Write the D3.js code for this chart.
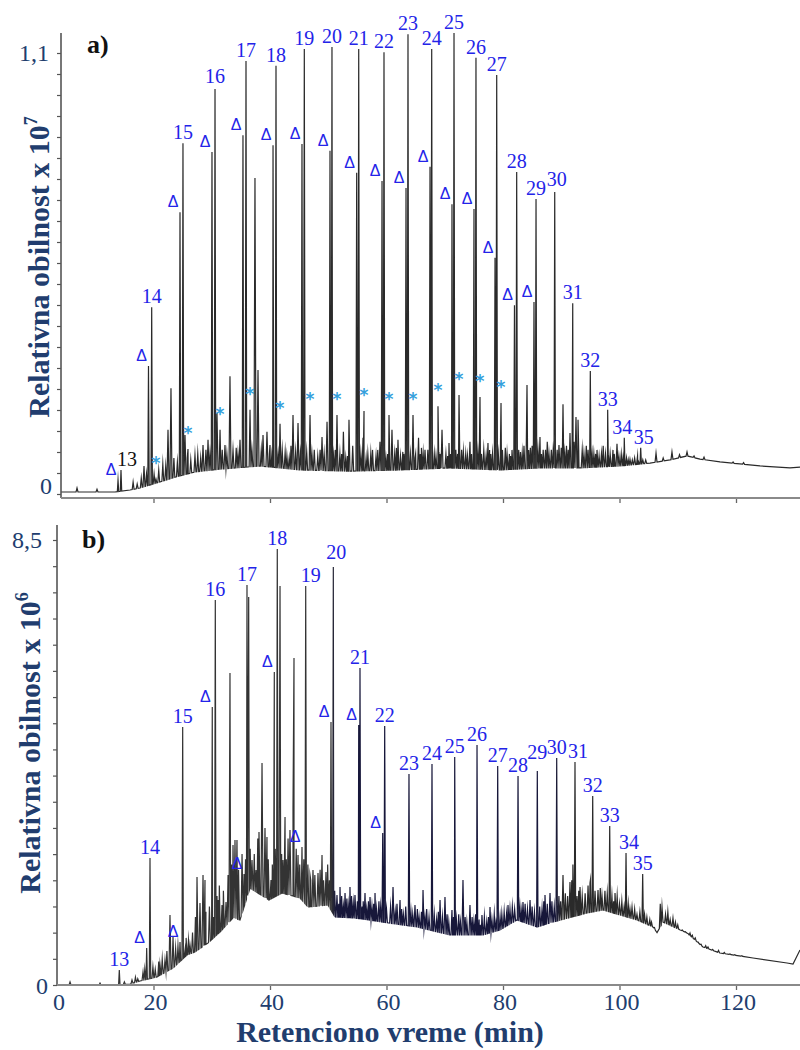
<!DOCTYPE html>
<html><head><meta charset="utf-8">
<script src="https://cdn.jsdelivr.net/npm/d3@7"></script>
<style>body{margin:0;background:#fff}svg{display:block}</style>
</head><body>
<svg id="c" width="800" height="1050"></svg>
<script>
// ================= DATA =================
// x axis (retention time, min)
const xTicks = [0, 20, 40, 60, 80, 100, 120];
// y axis ranges (panel a: x 10^7, panel b: x 10^6)
const yRangeA = [0, 1.1];
const yRangeB = [0, 8.5];
const yTickCountA = 21;   // minor tick intervals on panel a
const yTickStepB = 0.5;

// ---- panel a ----
const baseA = [[4.12,0.005],[13.39,0.005],[15.97,0.010],[17.68,0.015],[21.12,0.030],[23.69,0.042],[27.12,0.055],[31.42,0.062],[38.28,0.070],[45.15,0.060],[53.73,0.057],[62.32,0.060],[70.90,0.065],[79.48,0.060],[86.35,0.065],[93.22,0.065],[100.09,0.070],[105.24,0.077],[108.67,0.085],[111.59,0.095],[113.82,0.087],[117.25,0.080],[124.12,0.070],[129.27,0.065],[130.99,0.067]];
const alkanesA = [["13",14.42,0.060],["14",19.69,0.466],["15",25.06,0.875],["16",30.56,1.010],["17",35.88,1.080],["18",41.03,1.068],["19",45.89,1.110],["20",50.64,1.115],["21",55.23,1.110],["22",59.57,1.102],["23",63.69,1.147],["24",67.76,1.110],["25",71.59,1.150],["26",75.36,1.088],["27",78.92,1.045],["28",82.35,0.803],["29",85.67,0.736],["30",88.88,0.753],["31",91.97,0.476],["32",94.99,0.307],["33",97.97,0.210],["34",100.82,0.140],["35",103.64,0.115]];
const deltaA = [[13.91,0.035],[19.14,0.319],[24.55,0.703],[30.04,0.853],[35.36,0.895],[40.52,0.870],[45.49,0.873],[50.30,0.856],[54.88,0.801],[59.23,0.781],[63.35,0.763],[67.47,0.816],[71.24,0.723],[75.02,0.711],[78.63,0.589],[81.97,0.471],[85.32,0.479]];
const starA = [[20.43,0.037],[25.92,0.112],[31.42,0.160],[36.57,0.210],[41.72,0.175],[46.87,0.197],[51.50,0.197],[56.14,0.207],[60.43,0.197],[64.55,0.197],[68.84,0.219],[72.45,0.247],[76.05,0.242],[79.66,0.227]];
const grassA = [[6.87,0.015],[10.30,0.012],[18.37,0.070],[22.49,0.160],[23.00,0.264],[25.41,0.147],[27.12,0.097],[28.50,0.122],[29.36,0.135],[30.90,0.202],[32.27,0.122],[33.13,0.294],[33.65,0.110],[34.85,0.135],[37.42,0.788],[37.94,0.309],[38.80,0.147],[39.48,0.155],[40.00,0.122],[42.60,0.105],[43.30,0.090],[43.95,0.197],[44.81,0.177],[47.60,0.110],[48.20,0.095],[48.93,0.142],[49.79,0.180],[52.00,0.100],[52.60,0.155],[53.00,0.090],[53.56,0.185],[55.97,0.140],[56.80,0.100],[57.60,0.110],[58.20,0.095],[58.88,0.130],[60.94,0.160],[61.40,0.100],[61.97,0.135],[62.80,0.105],[65.00,0.100],[65.50,0.140],[66.00,0.115],[66.61,0.110],[69.00,0.105],[69.53,0.160],[70.20,0.100],[70.73,0.127],[72.90,0.110],[73.60,0.100],[74.33,0.130],[74.90,0.105],[76.70,0.110],[77.42,0.127],[77.90,0.100],[80.40,0.115],[81.10,0.100],[81.55,0.110],[83.00,0.105],[83.60,0.120],[84.12,0.272],[84.70,0.115],[86.35,0.142],[86.90,0.110],[87.60,0.130],[88.30,0.110],[89.61,0.122],[90.30,0.224],[90.90,0.120],[91.50,0.152],[92.53,0.192],[92.88,0.185],[93.60,0.110],[94.30,0.120],[95.60,0.100],[96.14,0.110],[97.20,0.120],[98.40,0.100],[98.88,0.110],[99.57,0.125],[100.30,0.100],[101.80,0.087],[102.60,0.090],[103.10,0.095],[104.50,0.085],[106.27,0.102],[107.50,0.090],[109.01,0.105],[110.30,0.098],[111.59,0.105],[112.80,0.095],[114.51,0.092],[119.50,0.080],[121.30,0.078]];
const noiseA = [[16.5,0.030],[17.2,0.025],[17.9,0.040],[18.8,0.050],[20.1,0.050],[20.9,0.060],[21.6,0.075],[22.1,0.070],[23.5,0.090],[24.1,0.080],[25.8,0.090],[26.4,0.085],[27.6,0.100],[28.1,0.090],[29.0,0.110],[29.7,0.100],[31.8,0.110],[32.6,0.100],[34.2,0.115],[34.5,0.100],[36.9,0.110],[38.5,0.110],[39.9,0.100],[40.3,0.095],[41.4,0.100],[42.1,0.110],[42.9,0.095],[43.6,0.120],[44.4,0.105],[45.2,0.100],[46.3,0.105],[47.2,0.100],[48.6,0.110],[49.3,0.100],[50.9,0.095],[51.2,0.110],[52.3,0.100],[53.3,0.095],[54.2,0.120],[55.6,0.100],[56.5,0.090],[57.3,0.100],[58.5,0.110],[59.9,0.090],[60.2,0.100],[61.7,0.115],[62.4,0.095],[63.0,0.100],[64.1,0.100],[64.9,0.090],[65.8,0.100],[66.3,0.100],[67.1,0.110],[68.2,0.100],[68.5,0.095],[69.2,0.100],[70.5,0.095],[71.0,0.100],[71.9,0.110],[72.2,0.100],[73.2,0.105],[73.9,0.095],[74.6,0.100],[75.7,0.105],[76.3,0.100],[77.1,0.095],[77.7,0.110],[78.2,0.100],[79.2,0.100],[79.9,0.110],[80.7,0.100],[81.3,0.095],[82.7,0.110],[83.3,0.100],[84.4,0.110],[85.0,0.120],[86.0,0.110],[86.6,0.100],[87.3,0.110],[87.9,0.100],[88.6,0.105],[89.3,0.110],[90.0,0.115],[90.6,0.100],[91.2,0.110],[92.2,0.130],[93.0,0.110],[93.9,0.100],[94.6,0.110],[95.3,0.100],[95.9,0.100],[96.5,0.095],[96.9,0.100],[97.6,0.100],[98.1,0.095],[99.1,0.100],[99.9,0.095],[100.6,0.090],[101.2,0.090],[101.5,0.085],[102.2,0.085],[103.3,0.080],[104.0,0.085]];

// ---- panel b ----
const baseB = [[3.43,0],[12.53,0],[15.97,0.019],[17.68,0.076],[20.60,0.153],[23.35,0.325],[25.75,0.573],[27.12,0.630],[29.36,0.802],[31.42,1.012],[33.65,1.280],[34.85,1.242],[36.57,1.850],[39.83,1.624],[42.06,1.757],[45.15,1.662],[46.52,1.490],[49.96,1.528],[51.16,1.299],[54.59,1.280],[60.40,1.184],[65.24,1.108],[70.90,0.955],[76.57,0.955],[79.48,1.051],[82.40,1.242],[85.84,1.108],[88.58,1.203],[94.42,1.375],[97.17,1.433],[100.09,1.337],[103.00,1.242],[105.75,1.108],[106.44,1.000],[107.47,1.203],[111.59,0.993],[114.33,0.726],[117.25,0.611],[122.92,0.516],[128.76,0.420],[129.79,0.401],[130.99,0.669]];
const alkanesB = [["13",14.13,0.287],["14",19.40,2.426],["15",25.01,4.928],["16",30.61,7.354],["17",36.05,7.640],["18",41.25,8.328],["19",46.13,7.621],["20",50.87,7.984],["21",55.45,6.055],["22",59.69,4.947],["23",63.86,4.030],["24",67.81,4.221],["25",71.71,4.355],["26",75.54,4.584],["27",79.09,4.183],["28",82.58,3.992],["29",85.89,4.088],["30",89.22,4.336],["31",92.36,4.260],["32",95.40,3.610],["33",98.32,3.037],["34",101.12,2.521],["35",103.98,2.120]];
const deltaB = [[18.83,0.707],[24.55,0.821],[30.09,5.310],[35.54,2.120],[40.74,5.979],[45.49,2.636],[50.47,5.024],[55.23,4.966],[59.35,2.903]];
const grassB = [[5.67,0.057],[10.82,0.038],[16.31,0.096],[18.20,0.248],[21.12,0.382],[21.97,0.478],[22.83,1.337],[23.35,0.917],[25.41,0.668],[26.27,0.764],[27.47,2.063],[27.98,1.566],[28.50,2.101],[28.84,2.006],[31.07,1.624],[31.76,1.528],[32.45,1.585],[33.13,5.960],[33.65,2.674],[33.99,2.770],[34.33,2.770],[36.34,7.411],[36.91,2.388],[37.60,2.197],[38.11,2.922],[38.63,4.240],[39.14,2.999],[39.48,2.827],[40.17,2.006],[41.72,7.621],[42.23,2.388],[42.58,3.209],[43.43,2.961],[43.95,3.381],[44.12,6.246],[44.81,2.483],[46.87,2.101],[47.38,2.197],[48.24,2.139],[48.93,2.483],[49.61,2.158],[51.50,1.719],[52.02,1.872],[52.88,1.757],[53.73,1.872],[54.59,1.719],[56.31,1.757],[57.17,1.681],[58.03,1.757],[61.12,1.872],[62.32,1.624],[64.89,1.528],[66.27,1.815],[69.19,1.624],[70.04,1.681],[71.24,1.433],[73.13,2.006],[74.33,1.528],[76.39,1.337],[77.77,1.490],[80.86,1.528],[83.43,1.585],[84.64,1.624],[87.21,1.719],[88.07,1.757],[90.30,2.101],[91.50,1.967],[93.22,1.872],[94.94,1.948],[96.31,1.815],[99.23,1.757],[102.15,1.490],[107.30,1.490],[109.18,1.280],[110.39,1.051],[112.10,0.993],[115.19,0.726],[118.97,0.592]];
const noiseB = [[15.0,0.06],[16.9,0.15],[17.3,0.12],[18.5,0.30],[19.9,0.35],[20.3,0.30],[20.9,0.45],[21.5,0.50],[22.3,0.65],[23.8,0.70],[24.2,0.75],[25.6,0.90],[26.0,0.85],[26.7,1.00],[27.2,1.30],[29.0,1.40],[29.6,1.50],[30.3,1.30],[30.9,1.70],[31.3,1.90],[32.0,1.80],[32.8,2.10],[33.4,2.30],[34.6,2.20],[35.2,2.50],[35.8,2.40],[36.6,2.60],[37.3,2.50],[37.9,2.80],[39.7,2.40],[40.4,2.30],[40.9,2.60],[42.0,2.50],[42.8,2.40],[43.1,2.80],[44.5,2.60],[45.1,2.30],[45.8,2.40],[46.5,2.30],[47.0,2.00],[47.7,2.10],[48.6,2.20],[49.2,2.00],[49.9,2.30],[50.2,2.00],[51.1,1.80],[51.8,1.55],[52.3,1.70],[52.6,1.50],[53.2,1.65],[53.5,1.50],[54.0,1.70],[54.3,1.55],[55.0,1.60],[55.8,1.50],[56.0,1.60],[56.6,1.45],[56.9,1.60],[57.5,1.50],[57.8,1.55],[58.3,1.45],[58.7,1.60],[59.0,1.50],[60.0,1.45],[60.7,1.50],[61.5,1.40],[61.8,1.55],[62.6,1.45],[62.9,1.35],[63.3,1.50],[64.2,1.40],[64.5,1.35],[65.3,1.45],[65.6,1.30],[66.0,1.40],[66.6,1.30],[66.9,1.45],[67.3,1.30],[68.2,1.35],[68.6,1.25],[68.9,1.40],[69.6,1.30],[70.4,1.35],[70.7,1.20],[71.5,1.30],[72.0,1.25],[72.4,1.35],[72.7,1.20],[73.5,1.30],[73.8,1.20],[74.7,1.30],[75.0,1.20],[75.3,1.35],[75.9,1.25],[76.1,1.15],[76.8,1.30],[77.2,1.20],[77.5,1.30],[78.1,1.25],[78.5,1.35],[78.8,1.20],[79.5,1.30],[79.8,1.35],[80.2,1.40],[80.6,1.35],[81.2,1.45],[81.6,1.50],[82.0,1.45],[82.9,1.50],[83.2,1.40],[83.8,1.55],[84.2,1.45],[85.0,1.50],[85.4,1.40],[86.3,1.50],[86.7,1.45],[87.0,1.60],[87.6,1.55],[88.4,1.60],[88.8,1.50],[89.6,1.70],[89.9,1.60],[90.7,1.75],[91.1,1.70],[91.8,2.00],[92.0,2.30],[92.7,1.70],[93.0,1.80],[93.6,1.70],[94.1,1.75],[94.6,1.90],[95.0,2.00],[95.8,1.80],[96.7,1.85],[97.0,1.70],[97.5,1.80],[97.9,1.75],[98.7,1.70],[99.0,1.60],[99.6,1.70],[100.0,1.55],[100.4,1.60],[100.8,1.50],[101.5,1.55],[101.8,1.45],[102.6,1.45],[103.0,1.35],[103.5,1.40],[104.3,1.35],[104.7,1.30],[105.2,1.25],[105.5,1.20],[106.0,1.10],[107.0,1.55],[107.9,1.35],[108.3,1.40],[108.7,1.25],[109.6,1.20],[110.0,1.15],[110.8,1.05],[111.3,1.02],[111.8,0.98],[112.5,0.95],[113.0,0.90],[113.5,0.82],[114.0,0.78],[114.8,0.75],[116.0,0.68],[117.0,0.66],[118.0,0.62],[119.8,0.58],[121.0,0.56]];

// text
const yTitle = "Relativna obilnost x 10";
const yExpA = "7", yExpB = "6";
const xTitle = "Retenciono vreme (min)";
const blackLabelsA = ["13"];

// ================= DRAWING =================
const svg = d3.select("#c");
svg.append("rect").attr("width",800).attr("height",1050).attr("fill","#fff");
const serif = "'Liberation Serif','Times New Roman',serif";
const sans = "'Liberation Sans',Arial,sans-serif";
const navy = "#213d6e";
const blue = "#2323e8";
const starCol = "#34a0dc";
const fmt = d3.formatLocale({decimal:",",thousands:".",grouping:[3],currency:["",""]}).format(".1f");

// label nudges (layout only, px)
const nudgeA = {"13":[6,0],"30":[2,-2],"34":[-2,0],"35":[3,0],"16":[0,-2]};
const nudgeB = {"19":[5,0],"20":[3,-4],"29":[0,-8],"31":[3,0],"34":[3,0]};

const x = d3.scaleLinear().domain([0,130]).range([37,794.25]);

const defs = svg.append("defs");
const gradB = defs.append("linearGradient").attr("id","gB").attr("gradientUnits","userSpaceOnUse")
  .attr("x1",0).attr("x2",800).attr("y1",0).attr("y2",0);
[[0,"#333"],[331/800,"#333"],[336/800,"#17173a"],[555/800,"#17173a"],[562/800,"#2a2a2a"],[1,"#2a2a2a"]]
  .forEach(([o,c])=>gradB.append("stop").attr("offset",o).attr("stop-color",c));

function tracePoints(base, groups){
  const bt = d3.scaleLinear().domain(base.map(d=>d[0])).range(base.map(d=>d[1])).clamp(true);
  const spikes = [];
  groups.forEach(([list,w]) => list.forEach(d => spikes.push([d[d.length-2], d[d.length-1], w])));
  const pts = base.filter(([t]) => !spikes.some(([s,,w]) => Math.abs(s-t) < w)).map(d=>[d[0],d[1]]);
  spikes.forEach(([t,v,w]) => { pts.push([t-w, bt(t-w)], [t, v], [t+w, bt(t+w)]); });
  pts.sort((a,b)=>a[0]-b[0]);
  return pts;
}

function panel(cfg){
  const y = d3.scaleLinear().domain(cfg.yRange).range([cfg.zeroY, cfg.topY]);
  const g = svg.append("g");
  const clipId = "clip"+cfg.id;
  defs.append("clipPath").attr("id",clipId).append("rect")
    .attr("x",cfg.axisX).attr("y",cfg.axisTop-30).attr("width",800-cfg.axisX).attr("height",cfg.xAxisY-cfg.axisTop+30);

  // trace
  const pts = tracePoints(cfg.base, [[cfg.alkanes,0.12],[cfg.delta,0.12],[cfg.star||[],0.15],[cfg.grass,0.17],[cfg.noise,0.16]]);
  g.append("path").attr("clip-path",`url(#${clipId})`)
    .attr("d", d3.line().x(d=>x(d[0])).y(d=>y(d[1]))(pts))
    .attr("fill","none").attr("stroke",cfg.stroke).attr("stroke-width",1.2).attr("stroke-linejoin","miter").attr("stroke-miterlimit",20);

  // axes
  const ya = g.append("g").attr("transform",`translate(${cfg.axisX},0)`)
    .call(d3.axisLeft(y).tickValues(cfg.yTickVals).tickSize(4).tickFormat(""));
  ya.select(".domain").remove();
  ya.selectAll(".tick line").attr("stroke","#555").attr("stroke-width",1.2);
  g.append("line").attr("x1",cfg.axisX).attr("x2",cfg.axisX).attr("y1",cfg.axisTop).attr("y2",cfg.xAxisY)
    .attr("stroke","#555").attr("stroke-width",1.6);

  const xa = g.append("g").attr("transform",`translate(0,${cfg.xAxisY})`)
    .call(d3.axisBottom(x).tickValues(xTicks.filter(d=>d>0)).tickSize(5).tickFormat(""));
  xa.select(".domain").remove();
  xa.selectAll(".tick line").attr("stroke","#666").attr("stroke-width",1.3);
  g.append("line").attr("x1",cfg.axisX).attr("x2",800).attr("y1",cfg.xAxisY).attr("y2",cfg.xAxisY)
    .attr("stroke","#8a8a8a").attr("stroke-width",2);

  // y tick labels (only ends)
  const top = cfg.yRange[1];
  g.append("text").attr("x",cfg.axisX-cfg.topLabelGap).attr("y",y(top)+7.5).attr("text-anchor","end")
    .attr("font-family",serif).attr("font-size",24).attr("fill",navy).text(fmt(top));
  g.append("text").attr("x",cfg.axisX-9).attr("y",y(0)+7.5+cfg.zeroLabelShift).attr("text-anchor","end")
    .attr("font-family",serif).attr("font-size",24).attr("fill",navy).text("0");

  // y title
  const t = g.append("text").attr("transform",`translate(${cfg.titleX},${cfg.titleY}) rotate(-90)`)
    .attr("text-anchor","middle").attr("font-family",serif).attr("font-weight","bold")
    .attr("font-size",30).attr("fill",navy);
  t.append("tspan").text(yTitle);
  t.append("tspan").attr("dy",-12).attr("font-size",18).text(cfg.exp);

  // panel letter
  g.append("text").attr("x",cfg.letterX).attr("y",cfg.letterY).attr("font-family",serif)
    .attr("font-weight","bold").attr("font-size",26).attr("fill","#111").text(cfg.letter);

  // alkane labels
  const nud = d => cfg.nudge[d[0]] || [0,0];
  g.selectAll("text.alk").data(cfg.alkanes).join("text").attr("class","alk")
    .attr("x",d=>x(d[1])+nud(d)[0]).attr("y",d=>y(d[2])-4+nud(d)[1]).attr("text-anchor","middle")
    .attr("font-family",serif).attr("font-size",20)
    .attr("fill",d=>(cfg.black||[]).includes(d[0])?"#111":blue).text(d=>d[0]);

  // delta marks
  g.selectAll("text.dl").data(cfg.delta).join("text").attr("class","dl")
    .attr("x",d=>x(d[0])-7).attr("y",d=>y(d[1])-5).attr("text-anchor","middle")
    .attr("font-family",sans).attr("font-size",16).attr("fill",blue).text("\u0394");

  // asterisks
  g.selectAll("text.st").data(cfg.star||[]).join("text").attr("class","st")
    .attr("x",d=>x(d[0])).attr("y",d=>y(d[1])-10).attr("text-anchor","middle")
    .attr("font-family","'DejaVu Sans',sans-serif").attr("font-weight","bold").attr("font-size",17).attr("fill",starCol).text("*");
  return y;
}

panel({id:"A", yRange:yRangeA, zeroY:494, topY:53, axisX:61, axisTop:33, xAxisY:498,
  yTickVals:d3.range(yTickCountA+1).map(i=>i*yRangeA[1]/yTickCountA),
  base:baseA, alkanes:alkanesA, delta:deltaA, star:starA, grass:grassA, noise:noiseA, stroke:"#2a2a2a",
  topLabelGap:12, zeroLabelShift:-8, titleX:49, titleY:267, exp:yExpA, letter:"a)", letterX:87, letterY:53,
  black:blackLabelsA, nudge:nudgeA});

panel({id:"B", yRange:yRangeB, zeroY:985, topY:540, axisX:57, axisTop:525, xAxisY:985,
  yTickVals:d3.range(0, yRangeB[1]+0.001, yTickStepB),
  base:baseB, alkanes:alkanesB, delta:deltaB, star:[], grass:grassB, noise:noiseB, stroke:"url(#gB)",
  topLabelGap:15, zeroLabelShift:1, titleX:40, titleY:743, exp:yExpB, letter:"b)", letterX:82, letterY:548,
  nudge:nudgeB});

// x tick labels (bottom panel)
const xl = svg.append("g");
xl.selectAll("text").data(xTicks).join("text")
  .attr("x",d=>d===0?59:x(d)+2).attr("y",1010).attr("text-anchor","middle")
  .attr("font-family",serif).attr("font-size",24).attr("fill",navy).text(d=>d);
svg.append("text").attr("x",390).attr("y",1042).attr("text-anchor","middle")
  .attr("font-family",serif).attr("font-weight","bold").attr("font-size",30).attr("fill",navy).text(xTitle);
</script>
</body></html>
